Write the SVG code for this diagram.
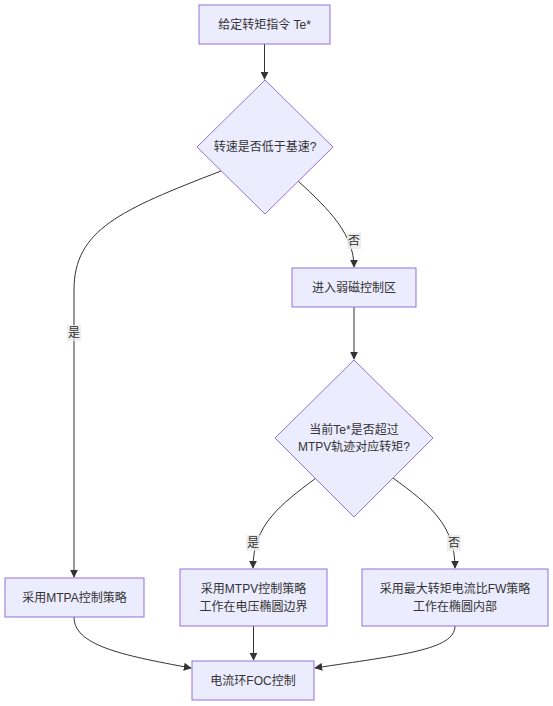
<svg xmlns="http://www.w3.org/2000/svg" width="553" height="706" viewBox="0 0 553 706">
<defs>
<style>
.node{fill:#ECECFF;stroke:#9370DB;stroke-width:1}
.t{font-family:"Liberation Sans","Noto Sans CJK SC",sans-serif;font-size:12px;fill:#333;text-anchor:middle;dominant-baseline:central}
.e{fill:none;stroke:#333;stroke-width:1}
.lb{fill:#e8e8e8;opacity:0.8}
</style>
<marker id="arr" viewBox="0 0 10 10" refX="9" refY="5" markerWidth="8" markerHeight="8" markerUnits="userSpaceOnUse" orient="auto">
<path d="M0,0 L10,5 L0,10 z" fill="#333"/>
</marker>
</defs>
<rect width="553" height="706" fill="#fff"/>
<g id="edges">
<path class="e" d="M264.5,44 L264.5,79" marker-end="url(#arr)"/>
<path class="e" d="M221,171 C120,210 74,230 74,290 L74,577" marker-end="url(#arr)"/>
<path class="e" d="M298,181 C330,210 354,235 354,267" marker-end="url(#arr)"/>
<path class="e" d="M354,307 L354,359" marker-end="url(#arr)"/>
<path class="e" d="M316,478 C280,505 253,525 253,568" marker-end="url(#arr)"/>
<path class="e" d="M393,478 C430,505 455,525 455,568" marker-end="url(#arr)"/>
<path class="e" d="M74,617 C74,645 120,655 191,668" marker-end="url(#arr)"/>
<path class="e" d="M253.5,626 L253.5,660" marker-end="url(#arr)"/>
<path class="e" d="M455,626 C455,650 400,655 315,668" marker-end="url(#arr)"/>
<rect class="lb" x="67" y="325" width="14" height="16"/>
<text class="t" x="74" y="333">是</text>
<rect class="lb" x="347" y="233" width="14" height="16"/>
<text class="t" x="354" y="241">否</text>
<rect class="lb" x="246" y="535" width="14" height="16"/>
<text class="t" x="253" y="543">是</text>
<rect class="lb" x="447" y="535" width="14" height="16"/>
<text class="t" x="454" y="543">否</text>
</g>
<g id="start">
<rect class="node" x="199" y="5" width="131" height="39"/>
<text class="t" x="264.5" y="24.5">给定转矩指令 Te*</text>
</g>
<g id="d1">
<polygon class="node" points="265,80 333,147 265,214 197,147"/>
<text class="t" x="265" y="147">转速是否低于基速?</text>
</g>
<g id="fw">
<rect class="node" x="292" y="268" width="124" height="39"/>
<text class="t" x="354" y="287.5">进入弱磁控制区</text>
</g>
<g id="d2">
<polygon class="node" points="354,360 433,438 354,517 275,438"/>
<text class="t" x="354" y="430">当前Te*是否超过</text>
<text class="t" x="354" y="447">MTPV轨迹对应转矩?</text>
</g>
<g id="mtpa">
<rect class="node" x="5" y="578" width="139" height="39"/>
<text class="t" x="74.5" y="597.5">采用MTPA控制策略</text>
</g>
<g id="mtpv">
<rect class="node" x="180" y="569" width="147" height="57"/>
<text class="t" x="253.5" y="589">采用MTPV控制策略</text>
<text class="t" x="253.5" y="607">工作在电压椭圆边界</text>
</g>
<g id="fwmax">
<rect class="node" x="362" y="569" width="186" height="57"/>
<text class="t" x="455" y="589">采用最大转矩电流比FW策略</text>
<text class="t" x="455" y="607">工作在椭圆内部</text>
</g>
<g id="foc">
<rect class="node" x="192" y="661" width="122" height="39"/>
<text class="t" x="253" y="680.5">电流环FOC控制</text>
</g>
</svg>
